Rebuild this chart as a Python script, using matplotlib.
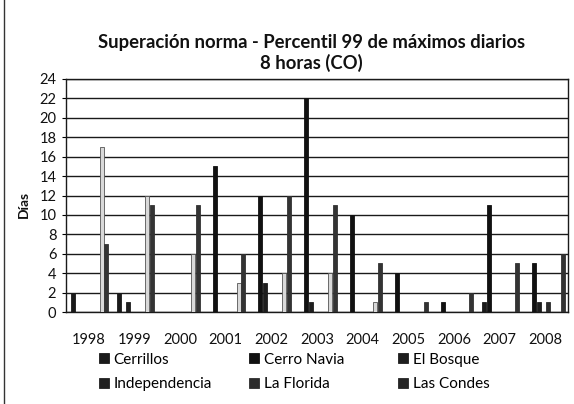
import matplotlib
matplotlib.use("Agg")
import matplotlib.pyplot as plt
import numpy as np

plt.rcParams['font.family'] = ['Lato', 'DejaVu Sans']

years = ['1998', '1999', '2000', '2001', '2002', '2003', '2004', '2005', '2006', '2007', '2008']

# Days exceeding the norm, per station (alphabetical order, as in the source sheet)
cerrillos      = [2, 2, 0, 0, 0, 0, 0, 0, 0, 1, 0]
cerro_navia    = [0, 0, 0, 15, 12, 22, 10, 4, 1, 11, 5]
el_bosque      = [0, 1, 0, 0, 3, 1, 0, 0, 0, 0, 1]
independencia  = [0, 0, 0, 0, 0, 0, 0, 0, 0, 0, 0]
la_florida     = [0, 0, 0, 0, 0, 0, 0, 0, 0, 0, 1]
las_condes     = [0, 0, 0, 0, 0, 0, 0, 0, 0, 0, 0]
parque_ohiggins = [17, 12, 6, 3, 4, 4, 1, 0, 0, 0, 0]
pudahuel       = [7, 11, 11, 6, 12, 11, 5, 1, 2, 5, 6]

names = ['Cerrillos', 'Cerro Navia', 'El Bosque', 'Independencia',
         'La Florida', 'Las Condes', "Parque O'Higgins", 'Pudahuel']
series = [cerrillos, cerro_navia, el_bosque, independencia,
          la_florida, las_condes, parque_ohiggins, pudahuel]
in_legend = [True, True, True, True, True, True, False, False]

faces = ['#1a1a1a', '#111111', '#1e1e1e', '#202020', '#2c2c2c', '#252525', '#d9d9d9', '#333333']
edges = ['#1a1a1a', '#111111', '#1e1e1e', '#202020', '#2c2c2c', '#252525', '#555555', '#333333']

fig = plt.figure(figsize=(5.74, 4.04), dpi=100)
ax = fig.add_axes([66/574, (404-312)/404, (568-66)/574, (312-79)/404])

x = np.arange(len(years))
slot = 4.76 / 45.7
bw = 0.088
shift = 0.02
handles = []
for i, (nm, vals) in enumerate(zip(names, series)):
    b = ax.bar(x + (i - 3.5) * slot + shift, vals, width=bw,
               color=faces[i], edgecolor=edges[i], linewidth=0.6, zorder=3,
               label=nm)
    if in_legend[i]:
        handles.append(b)

ax.set_xlim(-0.5, len(years) - 0.5)
ax.set_ylim(0, 24)
ax.set_yticks(np.arange(0, 25, 2))
ax.set_xticks(x)
ax.set_xticklabels(years)
ax.tick_params(axis='x', length=0, pad=15, labelsize=10.5)
ax.tick_params(axis='y', length=3, width=0.8, pad=4, labelsize=10.5)
for lbl in ax.get_xticklabels() + ax.get_yticklabels():
    lbl.set_color('#111111')

ax.grid(axis='y', color='#1a1a1a', linewidth=1.0, zorder=0)
for s in ['left', 'right', 'top', 'bottom']:
    ax.spines[s].set_color('#1a1a1a')
    ax.spines[s].set_linewidth(1.0)

ax.set_ylabel('Días', fontsize=10, fontweight='bold', color='#111111')
ax.yaxis.set_label_coords(-0.072, 0.46)

fig.text(0.542, 1 - 53/404, 'Superación norma - Percentil 99 de máximos diarios\n8 horas (CO)',
         ha='center', va='center', fontsize=13.3, fontweight='bold',
         color='#111111', linespacing=1.25)

# legend: three columns of two entries each
cols = [[0, 3], [1, 4], [2, 5]]
col_x = [99, 249, 398]
for cx, idx in zip(col_x, cols):
    lg = fig.legend([handles[k] for k in idx], [names[k] for k in idx],
                    loc='center left', bbox_to_anchor=(cx/574, 1 - 372/404),
                    frameon=False, fontsize=11, handlelength=0.65, handleheight=0.65,
                    handletextpad=0.3, labelspacing=0.7, borderpad=0.0,
                    borderaxespad=0.0)

fig.add_artist(plt.Line2D([4/574, 4/574], [0, 1], color='#333333', linewidth=1.0))

fig.savefig('out.png', dpi=100)
